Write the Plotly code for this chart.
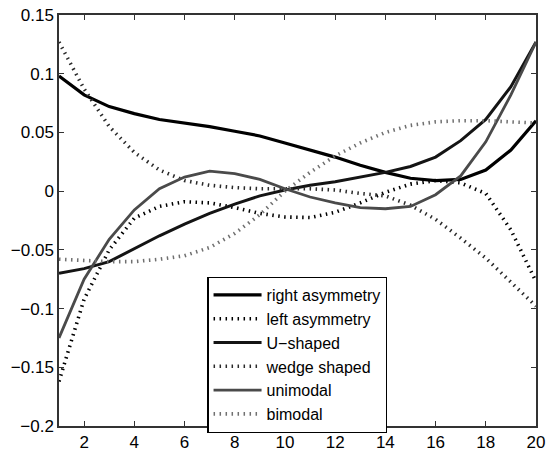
import plotly.graph_objects as go

x_vals = list(range(1, 21))

right_asymmetry = [0.098, 0.082, 0.072, 0.066, 0.061, 0.058, 0.055, 0.051, 0.047, 0.041,
                   0.035, 0.029, 0.022, 0.016, 0.011, 0.009, 0.010, 0.018, 0.035, 0.060]
left_asymmetry = [-0.162, -0.092, -0.050, -0.023, -0.013, -0.009, -0.010, -0.014, -0.019, -0.022,
                  -0.0225, -0.018, -0.010, -0.001, 0.006, 0.009, 0.007, -0.002, -0.033, -0.077]
u_shaped = [-0.070, -0.066, -0.060, -0.049, -0.038, -0.028, -0.019, -0.011, -0.004, 0.001,
            0.005, 0.008, 0.012, 0.016, 0.021, 0.029, 0.043, 0.061, 0.089, 0.127]
wedge_shaped = [0.127, 0.087, 0.055, 0.033, 0.018, 0.009, 0.005, 0.003, 0.002, 0.002,
                0.002, 0.001, -0.002, -0.004, -0.012, -0.024, -0.040, -0.057, -0.077, -0.098]
unimodal = [-0.125, -0.075, -0.041, -0.016, 0.002, 0.012, 0.017, 0.015, 0.010, 0.002,
            -0.005, -0.010, -0.014, -0.015, -0.013, -0.003, 0.013, 0.042, 0.082, 0.127]
bimodal = [-0.058, -0.059, -0.060, -0.060, -0.058, -0.055, -0.048, -0.036, -0.020, 0.000,
           0.016, 0.030, 0.041, 0.050, 0.056, 0.059, 0.060, 0.060, 0.059, 0.058]

names = ["right asymmetry", "left asymmetry", "U\u2212shaped", "wedge shaped", "unimodal", "bimodal"]
series = [right_asymmetry, left_asymmetry, u_shaped, wedge_shaped, unimodal, bimodal]

x_ticks = [2, 4, 6, 8, 10, 12, 14, 16, 18, 20]
y_ticks = [0.15, 0.1, 0.05, 0, -0.05, -0.1, -0.15, -0.2]
y_ticktext = ["0.15", "0.1", "0.05", "0", "\u22120.05", "\u22120.1", "\u22120.15", "\u22120.2"]

dot = "1.5px,4.5px"
styles = [
    dict(color="#000000", width=3.2, dash="solid"),
    dict(color="#000000", width=3.6, dash=dot),
    dict(color="#141414", width=3.0, dash="solid"),
    dict(color="#2a2a2a", width=3.6, dash=dot),
    dict(color="#4a4a4a", width=2.8, dash="solid"),
    dict(color="#707070", width=3.6, dash=dot),
]

fig = go.Figure()
for name, ys, st in zip(names, series, styles):
    fig.add_trace(go.Scatter(x=x_vals, y=ys, mode="lines", name=name, line=st))

axis_common = dict(
    showline=True, linecolor="#333333", linewidth=1.5, mirror="ticks",
    ticks="inside", ticklen=5, tickcolor="#333333", tickwidth=1.3,
    showgrid=False, zeroline=False, ticklabeloverflow="allow",
    tickfont=dict(family="Liberation Sans, Arial", size=17, color="#000000"),
)

fig.update_layout(
    width=551, height=458,
    margin=dict(l=59, r=6, t=15, b=25),
    paper_bgcolor="white", plot_bgcolor="white",
    xaxis=dict(range=[1, 20], tickvals=x_ticks, **axis_common),
    yaxis=dict(range=[-0.2, 0.15], tickvals=y_ticks, ticktext=y_ticktext, **axis_common),
    legend=dict(
        x=0.311, y=0.363, xanchor="left", yanchor="top",
        bgcolor="white", bordercolor="#000000", borderwidth=1.2,
        font=dict(family="Liberation Sans, Arial", size=16, color="#000000"),
        tracegroupgap=0, itemwidth=48,
    ),
    showlegend=True,
)

fig.write_html("out.html")
